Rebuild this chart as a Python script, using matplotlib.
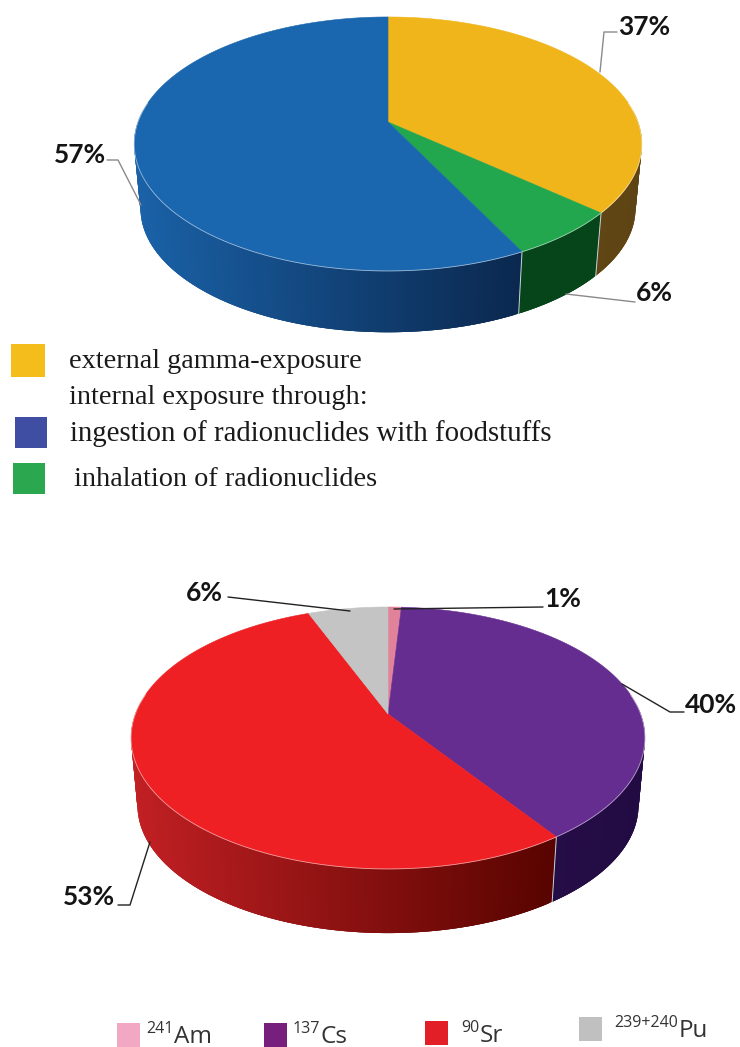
import numpy as np
import matplotlib
matplotlib.use("Agg")
import matplotlib.pyplot as plt
from matplotlib.colors import to_rgb
from matplotlib.patches import Polygon, Rectangle

# top pie
exposure_values = [37, 6, 57]
exposure_labels = ["37%", "6%", "57%"]
exposure_colors = ["#F0B51A", "#22A64E", "#1B67AF"]
exposure_walls = [("#6E5118", "#5E4414"), ("#06451A", "#06451A"), ("#1A62A8", "#0B2950")]

# bottom pie
nuclide_values = [1, 40, 53, 6]
nuclide_labels = ["1%", "40%", "53%", "6%"]
nuclide_colors = ["#E0829A", "#662D91", "#EE2024", "#C4C4C4"]
nuclide_walls = [("#70303F", "#70303F"), ("#2C1050", "#220B42"), ("#C22024", "#590400"), ("#6A6A6A", "#6A6A6A")]

legend_top = ["external gamma-exposure", "internal exposure through:",
              "ingestion of radionuclides with foodstuffs", "inhalation of radionuclides"]
legend_bottom = [("241", "Am"), ("137", "Cs"), ("90", "Sr"), ("239+240", "Pu")]


def warp(theta):
    # front right quadrant looks stretched in the original 3d view
    out = np.array(theta, dtype=float)
    m = (out > np.pi / 2) & (out < np.pi)
    out[m] = out[m] + 0.04 * np.sin(2 * out[m])
    return out


def rim(theta, cx, cy, a, b, k):
    # circle seen in perspective, theta clockwise from 12 o'clock
    th = warp(np.atleast_1d(theta))
    u, v = np.sin(th), -np.cos(th)
    w = 1 - k * v
    return cx + b * u / w, cy + a * v / w


def draw_pie(ax, values, colors, walls, cx, cy, a, b, k, depth, shrink=0.975):
    fracs = np.array(values) / np.sum(values)
    edges = np.concatenate([[0], np.cumsum(fracs)]) * 2 * np.pi
    # sides first
    for i in range(len(values)):
        n = max(int((edges[i + 1] - edges[i]) * 120), 3)
        th = np.linspace(edges[i], edges[i + 1], n + 1)
        x, y = rim(th, cx, cy, a, b, k)
        x2 = cx + (x - cx) * shrink
        y2 = cy + depth + (y - cy) * shrink
        c0, c1 = np.array(to_rgb(walls[i][0])), np.array(to_rgb(walls[i][1]))
        lo, hi = x.min(), x.max()
        order = np.argsort(x[:-1])
        for j in order:
            if y[j] < cy - 10 and y[j + 1] < cy - 10:
                continue
            t = (x[j] - lo) / max(hi - lo, 1)
            # every quad overlaps the next one, avoids stripes from antialiasing
            e = min(j + 3, n)
            quad = np.column_stack([np.r_[x[j:e + 1], x2[j:e + 1][::-1]], np.r_[y[j:e + 1], y2[j:e + 1][::-1]]])
            ax.add_patch(Polygon(quad, closed=True, fc=c0 + (c1 - c0) * t, ec="none", zorder=2))
    # seams between the side pieces
    for e in edges:
        x, y = rim(e, cx, cy, a, b, k)
        x, y = x[0], y[0]
        if y > cy:
            ax.plot([x, cx + (x - cx) * shrink], [y, cy + depth + (y - cy) * shrink],
                    color="#C9D3D8", lw=0.7, zorder=3)
    # top
    for i in range(len(values)):
        th = np.linspace(edges[i], edges[i + 1], 200)
        x, y = rim(th, cx, cy, a, b, k)
        pts = np.column_stack([np.r_[cx, x], np.r_[cy, y]])
        ax.add_patch(Polygon(pts, closed=True, fc=colors[i], ec=colors[i], lw=0.4, zorder=4))
    th = np.linspace(-np.pi * 0.55, np.pi * 0.55, 300) + np.pi
    x, y = rim(th, cx, cy, a, b, k)
    ax.plot(x, y, color="white", lw=0.6, alpha=0.55, zorder=5)


def leader(ax, xs, ys, color):
    ax.plot(xs, ys, color=color, lw=1.0, zorder=6, solid_capstyle="round")


fig = plt.figure(figsize=(7.4, 10.47), dpi=100)
ax = fig.add_axes([0, 0, 1, 1])
ax.set_xlim(0, 740)
ax.set_ylim(1047, 0)
ax.axis("off")

draw_pie(ax, exposure_values, exposure_colors, exposure_walls, 388, 122, 123.2, 250, 0.173, 65)
draw_pie(ax, nuclide_values, nuclide_colors, nuclide_walls, 388, 714, 126.6, 252.6, 0.183, 68)

leader(ax, [600, 604, 617], [72, 32, 32], "#8A8A8A")
leader(ax, [566, 635], [294, 302], "#8A8A8A")
leader(ax, [107, 118, 141], [160, 160, 205], "#8A8A8A")
leader(ax, [394, 543], [609, 607], "#222222")
leader(ax, [622, 670, 684], [684, 712, 712], "#222222")
leader(ax, [118, 130, 150], [905, 905, 842], "#222222")
leader(ax, [228, 350], [597, 611], "#222222")

pct_style = dict(family="Lato", fontweight="bold", fontsize=19, color="#141414", va="center", ha="center", zorder=7)
for txt, x, y in zip(exposure_labels, [644, 654, 80], [27, 293, 155]):
    ax.text(x, y, txt, **pct_style)
for txt, x, y in zip(nuclide_labels, [563, 711, 89, 204], [599, 705, 897, 593]):
    ax.text(x, y, txt, **pct_style)

# legend of the top pie
swatches = [(11, 344, 34, 33, "#F4BD1C"), (15, 417, 32, 31, "#3F4EA3"), (13, 463, 32, 31, "#2BA84F")]
for x, y, w, h, c in swatches:
    ax.add_patch(Rectangle((x, y), w, h, fc=c, ec="none"))
for txt, x, y, size in zip(legend_top, [69, 69, 70, 74], [362, 398, 434, 479], [20.3, 20.3, 20.8, 20.3]):
    ax.text(x, y, txt, family="Liberation Serif", fontsize=size, color="#1A1A1A", va="center", ha="left")

# legend of the bottom pie
bottom_swatches = [(117, 1023, "#F2A7C3"), (264, 1023, "#761F7C"), (425, 1021, "#E21F26"), (579, 1017, "#C0C0C0")]
for x, y, c in bottom_swatches:
    ax.add_patch(Rectangle((x, y), 23, 24, fc=c, ec="none"))

fig.canvas.draw()
renderer = fig.canvas.get_renderer()
for (sup, name), x, y in zip(legend_bottom, [146, 293, 461, 614], [1037, 1037, 1036, 1031]):
    t = ax.text(x, y - 8, sup, family="Open Sans", fontsize=11.5, color="#333333", va="center", ha="left")
    end = t.get_window_extent(renderer).x1
    ax.text(end + 0.5, y, name, family="Open Sans", fontsize=17.5, color="#333333", va="center", ha="left")

fig.savefig("out.png", dpi=100)
